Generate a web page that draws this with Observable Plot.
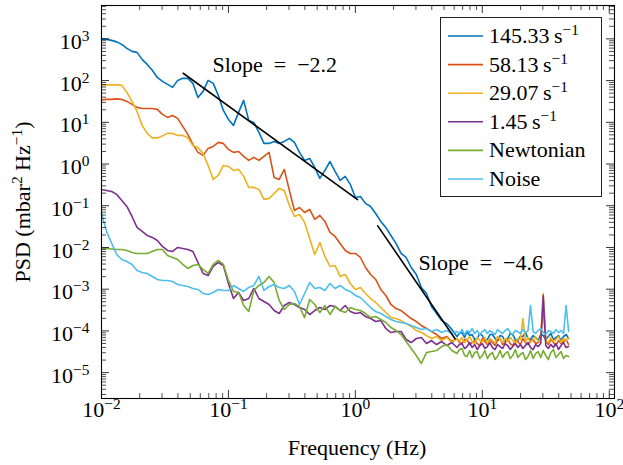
<!DOCTYPE html>
<html><head><meta charset="utf-8">
<script src="https://cdn.jsdelivr.net/npm/d3@7"></script>
<script src="https://cdn.jsdelivr.net/npm/@observablehq/plot@0.6"></script>
<style>body{margin:0;background:#fff}</style>
</head><body><div id="chart"></div>
<script>
// ---------- data ----------
const freq = [0.01,0.01096,0.01202,0.01318,0.01445,0.01585,0.01738,0.01905,0.02089,0.02291,0.02512,0.02754,0.03020,0.03311,0.03631,0.03981,0.04365,0.04786,0.05248,0.05754,0.06310,0.06918,0.07586,0.08318,0.09120,
0.1,0.1096,0.1202,0.1318,0.1445,0.1585,0.1738,0.1905,0.2089,0.2291,0.2512,0.2754,0.3020,0.3311,0.3631,0.3981,0.4365,0.4786,0.5248,0.5754,0.6310,0.6918,0.7586,0.8318,0.9120,
1,1.096,1.202,1.318,1.445,1.585,1.738,1.905,2.089,2.291,2.512,2.754,3.020,3.311,3.631,3.981,4.365,4.786,5.248,5.754,
6.310,6.607,6.918,7.244,7.586,7.943,8.318,8.710,9.120,9.550,10,10.47,10.96,11.48,12.02,12.59,13.18,13.80,14.45,15.14,15.85,16.60,17.38,18.20,19.05,19.95,20.89,21.88,22.91,23.99,25.12,26.30,27.54,28.84,30.20,31.62,33.11,34.67,36.31,38.02,39.81,41.69,43.65,45.71,47.86];

const psd145 = [1000,973,920,847,738,592,501,474,322,244,
176,119,95.7,81.1,68.7,101,113,113,85.7,39.5,
55.1,101,85.7,44.2,19.3,11.7,8.43,17.3,33.5,11.1,
9.95,5.73,3.12,3.12,3.48,3.12,3.48,4.11,3.30,1.90,
1.22,1.36,0.828,0.452,0.702,1.15,0.665,0.405,0.505,0.324,
0.158,0.167,0.114,0.0962,0.0653,0.0421,0.0302,0.0194,0.0125,0.00718,
0.00575,0.00331,0.00225,0.00110,7.89e-4,3.85e-4,2.61e-4,1.77e-4,1.50e-4,1.08e-4,
7.35e-5,8.67e-5,9.16e-5,6.95e-5,9.68e-5,7.76e-5,8.20e-5,6.22e-5,6.58e-5,8.67e-5,
7.76e-5,5.89e-5,6.22e-5,8.20e-5,8.20e-5,6.58e-5,5.89e-5,7.76e-5,7.35e-5,5.57e-5,
6.58e-5,8.67e-5,8.20e-5,6.22e-5,5.89e-5,7.35e-5,7.35e-5,9.16e-5,6.58e-5,6.22e-5,
7.76e-5,6.95e-5,5.89e-5,8.20e-5,7.76e-5,6.22e-5,7.35e-5,8.67e-5,6.22e-5,6.95e-5,
7.76e-5,5.89e-5,7.35e-5,8.20e-5,6.58e-5];

const psd58 = [34.4,35.4,35.4,36.4,35.4,31.7,26.9,22.8,21.5,21.5,
21.5,20.4,15.5,13.1,14.6,12.4,7.98,5.13,2.95,1.90,
1.61,2.37,2.64,3.30,3.12,2.24,1.90,2.00,1.52,1.22,
1.44,1.22,1.52,1.90,0.478,0.428,0.743,0.233,0.0771,0.0910,
0.0690,0.0815,0.0469,0.0585,0.0421,0.0229,0.0184,0.0125,0.00848,0.00718,
0.00718,0.00575,0.00331,0.00225,0.00171,9.84e-4,7.06e-4,4.30e-4,3.44e-4,3.08e-4,
2.47e-4,1.98e-4,1.68e-4,1.35e-4,1.14e-4,9.68e-5,8.20e-5,6.58e-5,7.35e-5,5.57e-5,
6.58e-5,5.27e-5,4.99e-5,6.22e-5,6.22e-5,4.72e-5,5.27e-5,5.89e-5,4.99e-5,4.47e-5,
6.58e-5,5.57e-5,4.72e-5,6.22e-5,5.27e-5,4.47e-5,5.89e-5,6.58e-5,4.72e-5,5.27e-5,
6.22e-5,4.99e-5,4.47e-5,5.89e-5,5.57e-5,4.72e-5,6.58e-5,5.27e-5,4.72e-5,5.89e-5,
6.22e-5,4.99e-5,5.27e-5,6.58e-5,4.06e-4,5.57e-5,4.72e-5,6.22e-5,5.27e-5,4.47e-5,
5.89e-5,4.99e-5,5.57e-5,6.22e-5,4.72e-5];

const psd29 = [78.9,78.9,78.9,78.9,76.7,52.1,31.7,18.2,8.43,5.42,
4.23,4.23,4.72,5.42,5.42,4.85,4.85,4.23,2.79,2.50,
1.79,0.925,0.428,0.533,0.925,0.875,0.702,0.743,0.505,0.275,
0.275,0.246,0.142,0.150,0.197,0.260,0.233,0.102,0.0553,0.0618,
0.0398,0.0164,0.00679,0.0132,0.00608,0.00350,0.00370,0.00202,0.00225,0.00137,
9.84e-4,0.00110,7.89e-4,5.98e-4,4.80e-4,3.64e-4,2.76e-4,2.09e-4,1.98e-4,1.77e-4,
1.50e-4,1.28e-4,1.02e-4,9.16e-5,7.76e-5,6.58e-5,7.35e-5,5.89e-5,6.95e-5,5.27e-5,
6.58e-5,5.57e-5,6.95e-5,5.27e-5,6.22e-5,7.35e-5,5.57e-5,4.99e-5,6.95e-5,5.89e-5,
5.57e-5,6.95e-5,4.99e-5,6.58e-5,5.89e-5,5.27e-5,7.35e-5,6.22e-5,5.27e-5,6.58e-5,
5.57e-5,6.95e-5,5.89e-5,4.99e-5,6.58e-5,6.22e-5,1.98e-4,5.57e-5,6.95e-5,5.27e-5,
6.22e-5,7.35e-5,5.57e-5,6.58e-5,7.89e-4,5.89e-5,5.27e-5,6.95e-5,5.57e-5,6.22e-5,
7.35e-5,5.27e-5,6.58e-5,5.89e-5,6.95e-5];

const psd1 = [0.246,0.233,0.220,0.187,0.134,0.0962,0.0553,0.0302,0.0242,0.0194,
0.0174,0.0147,0.0106,0.00848,0.00802,0.0100,0.00946,0.00895,0.00802,0.00437,
0.00238,0.00213,0.00351,0.00437,0.00370,0.00137,5.98e-4,8.34e-4,5.36e-4,5.98e-4,
0.00104,5.98e-4,5.07e-4,4.30e-4,3.08e-4,2.61e-4,4.06e-4,4.80e-4,4.30e-4,3.64e-4,
3.26e-4,2.47e-4,3.08e-4,3.64e-4,3.26e-4,4.06e-4,3.85e-4,3.08e-4,4.06e-4,2.92e-4,
2.61e-4,2.76e-4,2.21e-4,1.98e-4,1.68e-4,1.77e-4,1.14e-4,9.16e-5,9.68e-5,9.68e-5,
6.22e-5,5.27e-5,6.58e-5,6.95e-5,4.99e-5,5.89e-5,4.72e-5,5.57e-5,4.47e-5,5.27e-5,
4.00e-5,4.72e-5,4.99e-5,3.79e-5,4.23e-5,5.27e-5,4.00e-5,4.72e-5,3.58e-5,4.47e-5,
4.99e-5,3.79e-5,4.23e-5,5.27e-5,4.00e-5,3.58e-5,4.72e-5,4.23e-5,3.79e-5,4.99e-5,
4.47e-5,3.58e-5,4.23e-5,4.99e-5,4.00e-5,4.72e-5,3.79e-5,4.47e-5,5.27e-5,4.00e-5,
3.58e-5,4.72e-5,4.23e-5,4.99e-5,7.06e-4,4.47e-5,3.79e-5,4.72e-5,4.00e-5,4.99e-5,
3.58e-5,4.47e-5,5.27e-5,4.00e-5,4.23e-5];

const psdNewtonian = [0.00946,0.00946,0.00920,0.00895,0.00895,0.00848,0.00759,0.00718,0.00718,0.00718,
0.00802,0.00895,0.00895,0.00643,0.00575,0.00515,0.00392,0.00314,0.00370,0.00392,
0.00297,0.00238,0.00392,0.00488,0.00392,0.00162,8.81e-4,8.34e-4,4.06e-4,2.92e-4,
9.31e-4,0.00123,0.00145,0.00202,0.00145,5.36e-4,3.26e-4,4.30e-4,4.54e-4,3.85e-4,
2.09e-4,5.66e-4,4.30e-4,2.76e-4,4.06e-4,2.48e-4,3.85e-4,3.08e-4,2.76e-4,3.64e-4,
3.26e-4,3.08e-4,2.61e-4,2.09e-4,2.21e-4,1.88e-4,1.59e-4,1.21e-4,1.02e-4,8.20e-5,
5.57e-5,3.79e-5,2.57e-5,1.66e-5,3.03e-5,3.21e-5,3.39e-5,4.23e-5,4.72e-5,3.39e-5,
2.87e-5,3.58e-5,3.79e-5,2.57e-5,2.43e-5,3.39e-5,2.30e-5,3.03e-5,3.21e-5,2.18e-5,
2.57e-5,3.39e-5,2.18e-5,2.72e-5,3.03e-5,2.06e-5,2.43e-5,3.39e-5,2.30e-5,2.87e-5,
3.21e-5,2.18e-5,2.57e-5,3.58e-5,2.30e-5,2.72e-5,3.03e-5,2.06e-5,2.43e-5,3.39e-5,
2.18e-5,2.87e-5,3.21e-5,2.30e-5,3.39e-5,2.57e-5,2.06e-5,3.03e-5,3.58e-5,2.30e-5,
2.72e-5,3.21e-5,2.18e-5,2.57e-5,2.43e-5];

const psdNoise = [0.0655,0.0242,0.0125,0.00679,0.00515,0.00461,0.00392,0.00281,0.00252,0.00238,
0.00202,0.00171,0.00162,0.00162,0.00153,0.00130,0.00123,0.00116,0.00104,9.84e-4,
7.89e-4,7.46e-4,8.34e-4,9.84e-4,9.31e-4,9.31e-4,0.00123,0.00104,8.81e-4,0.00110,
0.00123,0.00202,9.31e-4,0.00116,0.00130,0.00110,0.00104,0.00123,8.81e-4,4.30e-4,
7.89e-4,0.00145,0.00104,0.00110,9.31e-4,0.00137,0.00104,0.00123,9.84e-4,8.81e-4,
7.06e-4,6.32e-4,4.80e-4,3.64e-4,2.92e-4,2.61e-4,2.21e-4,1.88e-4,1.68e-4,1.59e-4,
1.51e-4,1.35e-4,1.21e-4,1.08e-4,1.14e-4,9.68e-5,1.08e-4,9.16e-5,1.02e-4,8.67e-5,
9.68e-5,8.67e-5,1.08e-4,8.20e-5,1.02e-4,9.16e-5,1.14e-4,8.67e-5,1.02e-4,8.20e-5,
9.68e-5,1.08e-4,8.67e-5,1.02e-4,9.16e-5,8.20e-5,1.08e-4,9.68e-5,8.67e-5,1.02e-4,
1.14e-4,9.16e-5,8.20e-5,1.02e-4,9.68e-5,8.67e-5,1.08e-4,9.16e-5,1.02e-4,4.06e-4,
9.68e-5,8.67e-5,1.02e-4,1.14e-4,9.16e-5,8.20e-5,1.02e-4,9.68e-5,8.67e-5,1.08e-4,
9.16e-5,1.02e-4,8.67e-5,4.06e-4,9.68e-5];

const seriesNames = ["145.33\u2009s^{−1}", "58.13\u2009s^{−1}", "29.07\u2009s^{−1}", "1.45\u2009s^{−1}", "Newtonian", "Noise"];
const seriesColors = ["#0072BD", "#D95319", "#EDB120", "#7E2F8E", "#77AC30", "#4DBEEE"];
const seriesValues = [psd145, psd58, psd29, psd1, psdNewtonian, psdNoise];

// fitted slope lines
const slope1F = [0.044, 1.04], slope1P = [150, 0.14];
const slope2F = [1.5, 6.1], slope2P = [0.033, 6.5e-5];
const slopeLabelText = ["Slope\u2002=\u2002−2.2", "Slope\u2002=\u2002−4.6"];
const slopeLabelF = [0.232, 9.73];
const slopeLabelP = [232, 0.0042];

const xMajor = [0.01, 0.1, 1, 10, 100];
const yMajor = [1e-5, 1e-4, 1e-3, 1e-2, 1e-1, 1, 10, 100, 1000];
const xDomain = [0.01, 110];
const yDomain = [2.4e-6, 6300];
const xTitle = "Frequency (Hz)";
const yTitle = "PSD (mbar^{2} Hz^{−1})";

// ---------- build ----------
const W = 623, H = 465, mL = 101, mR = 9, mT = 5, mB = 67;
const fw = W - mL - mR, fh = H - mT - mB;
const FS = 22;
const majorLen = 8, minorLen = 5;

const table = [];
seriesValues.forEach((vals, s) => vals.forEach((v, i) => table.push({f: freq[i], psd: v, series: seriesNames[s]})));
const slope1 = slope1F.map((f, i) => ({f, psd: slope1P[i]}));
const slope2 = slope2F.map((f, i) => ({f, psd: slope2P[i]}));
const slopeLabels = slopeLabelText.map((label, i) => ({label, f: slopeLabelF[i], psd: slopeLabelP[i]}));

const xMinor = [], yMinor = [];
for (let e = -2; e <= 1; e++) for (let m = 2; m <= 9; m++) xMinor.push(m * Math.pow(10, e));
for (let e = -6; e <= 3; e++) for (let m = 2; m <= 9; m++) { const v = m * Math.pow(10, e); if (v >= yDomain[0] && v <= yDomain[1]) yMinor.push(v); }

const fmt = d => "10^{" + String(Math.round(Math.log10(d))).replace("-", "−") + "}";

const plot = Plot.plot({
  width: W, height: H,
  marginLeft: mL, marginRight: mR, marginTop: mT, marginBottom: mB,
  style: {fontFamily: "'Liberation Serif', 'Times New Roman', serif", fontSize: FS + "px", background: "white", color: "black"},
  x: {type: "log", domain: xDomain, axis: null},
  y: {type: "log", domain: yDomain, axis: null},
  color: {domain: seriesNames, range: seriesColors},
  marks: [
    Plot.line(table, {x: "f", y: "psd", z: "series", stroke: "series", strokeWidth: 1.6, strokeLinejoin: "round"}),
    Plot.line(slope1, {x: "f", y: "psd", stroke: "black", strokeWidth: 1.6}),
    Plot.line(slope2, {x: "f", y: "psd", stroke: "black", strokeWidth: 1.6}),
    Plot.text(slopeLabels, {x: "f", y: "psd", text: "label", fontSize: FS, fill: "black"}),
    Plot.tickX(xMajor, {x: d => d, insetTop: fh - majorLen, stroke: "black", strokeWidth: 0.8}),
    Plot.tickX(xMajor, {x: d => d, insetBottom: fh - majorLen, stroke: "black", strokeWidth: 0.8}),
    Plot.tickX(xMinor, {x: d => d, insetTop: fh - minorLen, stroke: "black", strokeWidth: 0.7}),
    Plot.tickX(xMinor, {x: d => d, insetBottom: fh - minorLen, stroke: "black", strokeWidth: 0.7}),
    Plot.tickY(yMajor, {y: d => d, insetRight: fw - majorLen, stroke: "black", strokeWidth: 0.8}),
    Plot.tickY(yMajor, {y: d => d, insetLeft: fw - majorLen, stroke: "black", strokeWidth: 0.8}),
    Plot.tickY(yMinor, {y: d => d, insetRight: fw - minorLen, stroke: "black", strokeWidth: 0.7}),
    Plot.tickY(yMinor, {y: d => d, insetLeft: fw - minorLen, stroke: "black", strokeWidth: 0.7}),
    Plot.text(xMajor, {x: d => d, frameAnchor: "bottom", dy: 18, text: fmt, fontSize: FS, fill: "black"}),
    Plot.text(yMajor, {y: d => d, frameAnchor: "left", dx: -12, dy: 3, textAnchor: "end", text: fmt, fontSize: FS, fill: "black"}),
    Plot.frame({stroke: "black", strokeWidth: 1.1})
  ]
});

// rich text: "^{...}" becomes a superscript tspan
function rich(node, str, size) {
  while (node.firstChild) node.removeChild(node.firstChild);
  const parts = str.split(/\^\{([^}]*)\}/);
  const ns = "http://www.w3.org/2000/svg";
  const rise = 0.36 * size;
  let raised = false;
  parts.forEach((p, i) => {
    const sup = i % 2 === 1;
    if (!p) return;
    const t = document.createElementNS(ns, "tspan");
    t.textContent = p;
    if (sup) { t.setAttribute("font-size", (0.7 * size).toFixed(1)); t.setAttribute("dy", (-rise).toFixed(1)); raised = true; }
    else if (raised) { t.setAttribute("dy", rise.toFixed(1)); raised = false; }
    node.appendChild(t);
  });
}

const svg = d3.select(plot);
svg.selectAll("text").each(function () {
  const s = this.textContent;
  if (s.includes("^{")) rich(this, s, FS);
});

// axis titles
const xt = svg.append("text").attr("x", 357).attr("y", 455).attr("text-anchor", "middle").attr("font-size", FS).attr("fill", "black");
rich(xt.node(), xTitle, FS);
const yt = svg.append("text").attr("transform", "translate(30,202) rotate(-90)").attr("text-anchor", "middle").attr("font-size", FS).attr("fill", "black");
rich(yt.node(), yTitle, FS);

// legend
const lg = svg.append("g").attr("text-anchor", "start");
lg.append("rect").attr("x", 440.5).attr("y", 17.5).attr("width", 161).attr("height", 179).attr("fill", "white").attr("stroke", "#222").attr("stroke-width", 1);
const rowY0 = 36, rowStep = 28.6;
seriesNames.forEach((name, i) => {
  const y = rowY0 + i * rowStep;
  lg.append("line").attr("x1", 448).attr("x2", 483).attr("y1", y).attr("y2", y).attr("stroke", seriesColors[i]).attr("stroke-width", 1.6);
  const t = lg.append("text").attr("x", 489).attr("y", y + 7).attr("text-anchor", "start").attr("font-size", FS).attr("fill", "black");
  rich(t.node(), name, FS);
});

document.getElementById("chart").appendChild(plot);
</script>
</body></html>
